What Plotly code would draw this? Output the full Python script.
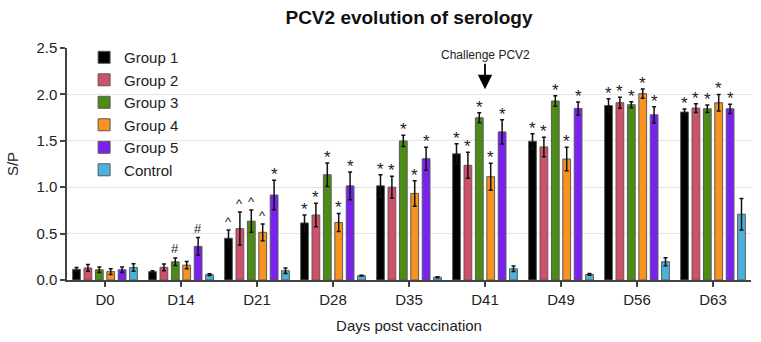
import plotly.graph_objects as go

days = ["D0", "D14", "D21", "D28", "D35", "D41", "D49", "D56", "D63"]
groups = ["Group 1", "Group 2", "Group 3", "Group 4", "Group 5", "Control"]
colors = ["#000000", "#CF5068", "#4B8B16", "#F7931E", "#7A20F0", "#4DB1DB"]

g1 = [0.115, 0.09, 0.45, 0.615, 1.015, 1.36, 1.495, 1.88, 1.81]
g2 = [0.13, 0.137, 0.554, 0.70, 1.00, 1.236, 1.434, 1.91, 1.853]
g3 = [0.11, 0.196, 0.634, 1.134, 1.499, 1.748, 1.929, 1.889, 1.845]
g4 = [0.09, 0.16, 0.514, 0.62, 0.933, 1.113, 1.304, 2.008, 1.91]
g5 = [0.11, 0.362, 0.916, 1.014, 1.307, 1.596, 1.849, 1.78, 1.845]
ctrl = [0.135, 0.058, 0.10, 0.047, 0.03, 0.121, 0.06, 0.197, 0.709]

e1 = [0.02, 0.01, 0.09, 0.085, 0.12, 0.108, 0.08, 0.072, 0.032]
e2 = [0.036, 0.036, 0.18, 0.126, 0.117, 0.14, 0.105, 0.06, 0.047]
e3 = [0.03, 0.04, 0.12, 0.127, 0.06, 0.054, 0.057, 0.032, 0.04]
e4 = [0.03, 0.04, 0.09, 0.097, 0.137, 0.145, 0.126, 0.05, 0.09]
e5 = [0.03, 0.095, 0.16, 0.15, 0.124, 0.13, 0.07, 0.087, 0.05]
ec = [0.04, 0.01, 0.03, 0.005, 0.005, 0.03, 0.01, 0.043, 0.17]

m1 = ["", "", "^", "*", "*", "*", "*", "*", "*"]
m2 = ["", "", "^", "*", "*", "*", "*", "*", "*"]
m3 = ["", "#", "^", "*", "*", "*", "*", "*", "*"]
m4 = ["", "", "^", "*", "*", "*", "*", "*", "*"]
m5 = ["", "#", "*", "*", "*", "*", "*", "*", "*"]
mc = [""] * 9

values = [g1, g2, g3, g4, g5, ctrl]
errors = [e1, e2, e3, e4, e5, ec]
marks = [m1, m2, m3, m4, m5, mc]

FONT = "Arial, Liberation Sans, sans-serif"
xs = list(range(len(days)))
bargap = 0.1
slot = (1 - bargap) / len(groups)

fig = go.Figure()
for j, name in enumerate(groups):
    fig.add_trace(go.Bar(
        x=xs, y=values[j], name=name,
        marker=dict(color=colors[j], line=dict(color="#5a5a5a", width=1)),
        error_y=dict(type="data", array=errors[j], visible=True,
                     color="#111111", thickness=1.5, width=2),
    ))

annotations = []
for j in range(len(groups)):
    off = (j - (len(groups) - 1) / 2) * slot
    for i in xs:
        t = marks[j][i]
        if not t:
            continue
        annotations.append(dict(
            x=i + off, y=values[j][i] + errors[j][i], xref="x", yref="y",
            text=t, showarrow=False, yanchor="bottom",
            yshift=-6 if t == "*" else (-1 if t == "^" else 0),
            font=dict(family=FONT, size=17 if t == "*" else 13, color="#222222"),
        ))

annotations.append(dict(
    x=5, y=2.056, xref="x", yref="y", text="Challenge PCV2",
    showarrow=True, arrowhead=2, arrowsize=1.6, arrowwidth=1.8,
    arrowcolor="#000000", ax=0, ay=-34, standoff=0,
    font=dict(family=FONT, size=12, color="#222222"),
))

fig.update_layout(
    width=761, height=342,
    margin=dict(l=67, r=10, t=48, b=62),
    paper_bgcolor="white", plot_bgcolor="white",
    barmode="group", bargap=bargap, bargroupgap=0.32,
    title=dict(text="<b>PCV2 evolution of serology</b>", x=0.5, xref="paper",
               y=1 - 17 / 342, yref="container", yanchor="middle", xanchor="center",
               font=dict(family=FONT, size=19, color="#111111")),
    font=dict(family=FONT, size=15, color="#222222"),
    legend=dict(x=0.025, y=1.03, xanchor="left", yanchor="top",
                bgcolor="rgba(0,0,0,0)", font=dict(family=FONT, size=15, color="#222222"),
                tracegroupgap=0, itemclick=False),
    annotations=annotations,
    showlegend=True,
)
fig.update_xaxes(
    tickvals=xs, ticktext=days, range=[-0.5, len(days) - 0.5],
    showline=True, linecolor="#444444", linewidth=1.5,
    ticks="outside", ticklen=5, tickcolor="#444444", tickwidth=1.5,
    showgrid=False, zeroline=False,
    title=dict(text="Days post vaccination", font=dict(family=FONT, size=15), standoff=14),
    tickfont=dict(family=FONT, size=15, color="#222222"),
)
fig.update_yaxes(
    range=[0, 2.5], dtick=0.5, tickformat=".1f",
    showline=True, linecolor="#444444", linewidth=1.5,
    ticks="outside", ticklen=5, tickcolor="#444444", tickwidth=1.5,
    showgrid=True, gridcolor="#e4e4e4", gridwidth=1, zeroline=False,
    title=dict(text="S/P", font=dict(family=FONT, size=15), standoff=14),
    tickfont=dict(family=FONT, size=15, color="#222222"),
)

fig.write_html("out.html")
